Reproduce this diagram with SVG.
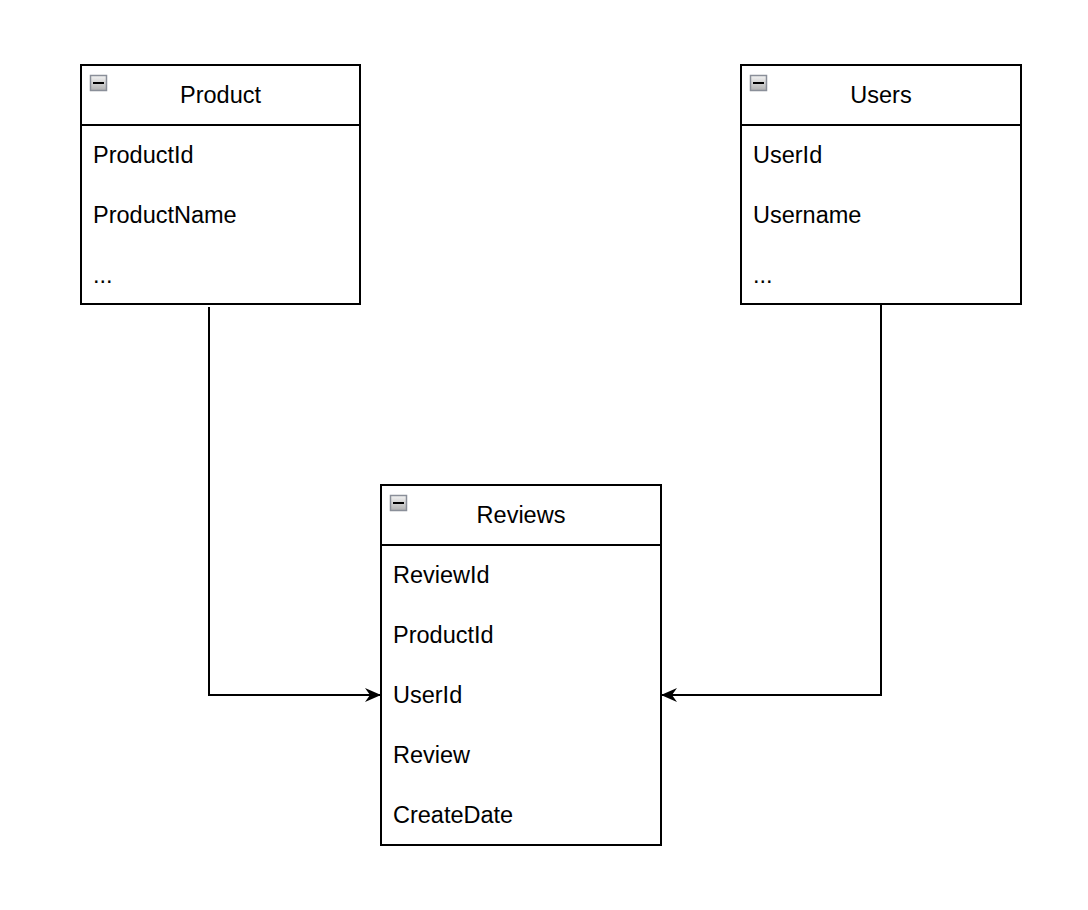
<svg xmlns="http://www.w3.org/2000/svg" width="1088" height="910" viewBox="0 0 1088 910">
<style>
.box{fill:#fff;stroke:#000;stroke-width:2}
.sep{stroke:#000;stroke-width:2}
.t{font-family:"Liberation Sans",Arial,sans-serif;font-size:23.5px;fill:#000}
.h{text-anchor:middle}
.edge{fill:none;stroke:#000;stroke-width:2}
.ic{fill:url(#g);stroke:#8a8f99;stroke-width:1.5}
</style>
<defs>
<linearGradient id="g" x1="0" y1="0" x2="0" y2="1"><stop offset="0" stop-color="#f4f4f4"/><stop offset="1" stop-color="#b0b0b0"/></linearGradient>
<marker id="arr" viewBox="0 0 16 14" refX="15" refY="7" markerWidth="16" markerHeight="14" markerUnits="userSpaceOnUse" orient="auto">
<path d="M0,0 L16,7 L0,14 L5,7 Z" fill="#000"/>
</marker>
</defs>
<g id="connectors">
<path class="edge" d="M209,307 V695 H380" marker-end="url(#arr)"/>
<path class="edge" d="M881,305 V695 H662" marker-end="url(#arr)"/>
</g>
<g id="product">
<rect class="box" x="81" y="65" width="279" height="239"/>
<line class="sep" x1="81" y1="125" x2="360" y2="125"/>
<rect class="ic" x="90.5" y="75.5" width="16" height="15"/>
<line x1="93" y1="83" x2="104" y2="83" stroke="#000" stroke-width="2"/>
<text class="t h" x="220.5" y="103">Product</text>
<text class="t" x="93" y="163">ProductId</text>
<text class="t" x="93" y="223">ProductName</text>
<text class="t" x="93" y="283">...</text>
</g>
<g id="users">
<rect class="box" x="741" y="65" width="280" height="239"/>
<line class="sep" x1="741" y1="125" x2="1021" y2="125"/>
<rect class="ic" x="750.5" y="75.5" width="16" height="15"/>
<line x1="753" y1="83" x2="764" y2="83" stroke="#000" stroke-width="2"/>
<text class="t h" x="881" y="103">Users</text>
<text class="t" x="753" y="163">UserId</text>
<text class="t" x="753" y="223">Username</text>
<text class="t" x="753" y="283">...</text>
</g>
<g id="reviews">
<rect class="box" x="381" y="485" width="280" height="360"/>
<line class="sep" x1="381" y1="545" x2="661" y2="545"/>
<rect class="ic" x="390.5" y="495.5" width="16" height="15"/>
<line x1="393" y1="503" x2="404" y2="503" stroke="#000" stroke-width="2"/>
<text class="t h" x="521" y="523">Reviews</text>
<text class="t" x="393" y="583">ReviewId</text>
<text class="t" x="393" y="643">ProductId</text>
<text class="t" x="393" y="703">UserId</text>
<text class="t" x="393" y="763">Review</text>
<text class="t" x="393" y="823">CreateDate</text>
</g>
</svg>
